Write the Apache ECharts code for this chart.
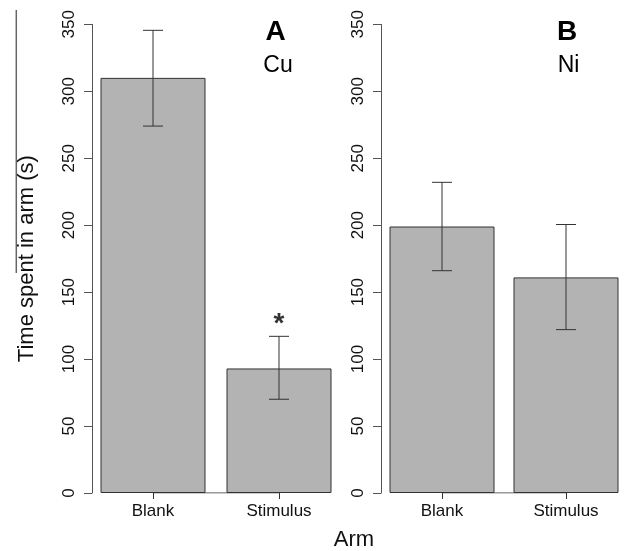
<!DOCTYPE html>
<html>
<head>
<meta charset="utf-8">
<script src="https://cdn.jsdelivr.net/npm/echarts@6/dist/echarts.min.js"></script>
<style>
html,body{margin:0;padding:0;background:#fff;}
#c{width:628px;height:551px;}
</style>
</head>
<body>
<div id="c"></div>
<script>
var categories = ['Blank', 'Stimulus'];
var cuMean = [310, 93];
var cuLow = [274, 70];
var cuHigh = [345.5, 117];
var niMean = [199, 161];
var niLow = [166, 122];
var niHigh = [232, 200.5];
var yTicksMin = 0, yTicksMax = 350, yTicksStep = 50;

var FONT = 'Liberation Sans, Arial, Helvetica, sans-serif';
var chart = echarts.init(document.getElementById('c'), null, {renderer: 'canvas'});

function errData(lo, hi) {
  return lo.map(function (v, i) { return [i, v, hi[i]]; });
}
function errRender(params, api) {
  var x = api.value(0);
  var lo = api.coord([x, api.value(1)]);
  var hi = api.coord([x, api.value(2)]);
  var hw = 10;
  var st = {stroke: '#333', lineWidth: 1};
  return {
    type: 'group',
    children: [
      {type: 'line', shape: {x1: lo[0], y1: lo[1], x2: hi[0], y2: hi[1]}, style: st},
      {type: 'line', shape: {x1: lo[0] - hw, y1: lo[1], x2: lo[0] + hw, y2: lo[1]}, style: st},
      {type: 'line', shape: {x1: hi[0] - hw, y1: hi[1], x2: hi[0] + hw, y2: hi[1]}, style: st}
    ]
  };
}

function yAxis(idx, offset, withName) {
  var a = {
    type: 'value', gridIndex: idx, min: yTicksMin, max: yTicksMax, interval: yTicksStep,
    offset: offset,
    splitLine: {show: false},
    axisLine: {show: true, lineStyle: {color: '#555', width: 1}},
    axisTick: {show: true, length: 8, lineStyle: {color: '#555'}},
    axisLabel: {rotate: 90, fontSize: 17, color: '#111', fontFamily: FONT, margin: 14}
  };
  if (withName) {
    a.name = 'Time spent in arm (s)';
    a.nameLocation = 'middle';
    a.nameGap = 54;
    a.nameTextStyle = {fontSize: 22, color: '#111', fontFamily: FONT};
  }
  return a;
}
function xAxis(idx) {
  return {
    type: 'category', gridIndex: idx, data: categories,
    axisLine: {show: false},
    axisTick: {show: true, alignWithLabel: true, length: 6, lineStyle: {color: '#333'}},
    axisLabel: {fontSize: 17, color: '#111', fontFamily: FONT, margin: 10}
  };
}
function barSeries(idx, data) {
  return {
    type: 'bar', xAxisIndex: idx, yAxisIndex: idx, data: data, barWidth: 105,
    itemStyle: {color: '#b3b3b3', borderColor: '#333', borderWidth: 1},
    silent: true
  };
}
function baseLine(idx) {
  return {
    type: 'line', xAxisIndex: idx, yAxisIndex: idx, data: categories.map(function () { return 0; }),
    symbol: 'none', lineStyle: {color: '#333', width: 1}, z: 5, silent: true
  };
}

var option = {
  backgroundColor: '#fff',
  animation: false,
  grid: [
    {left: 90, top: 24.3, width: 252, height: 468.7},
    {left: 380, top: 24.3, width: 252, height: 468.7}
  ],
  xAxis: [xAxis(0), xAxis(1)],
  yAxis: [yAxis(0, -2, true), yAxis(1, -1, false)],
  series: [
    barSeries(0, cuMean),
    barSeries(1, niMean),
    baseLine(0),
    baseLine(1),
    {type: 'custom', xAxisIndex: 0, yAxisIndex: 0, data: errData(cuLow, cuHigh), renderItem: errRender, z: 6, silent: true},
    {type: 'custom', xAxisIndex: 1, yAxisIndex: 1, data: errData(niLow, niHigh), renderItem: errRender, z: 6, silent: true},
    {
      type: 'scatter', xAxisIndex: 0, yAxisIndex: 0, symbolSize: 0.01,
      data: [[1, cuHigh[1]]],
      label: {show: true, position: 'top', distance: -2, formatter: '*', fontSize: 28, fontWeight: 'bold', color: '#000', fontFamily: FONT},
      silent: true
    }
  ],
  graphic: [
    {type: 'text', x: 275.5, y: 32, style: {text: 'A', font: 'bold 28px ' + FONT, fill: '#000', textAlign: 'center', textVerticalAlign: 'middle'}},
    {type: 'text', x: 278, y: 66, style: {text: 'Cu', font: '23px ' + FONT, fill: '#000', textAlign: 'center', textVerticalAlign: 'middle'}},
    {type: 'text', x: 567, y: 32, style: {text: 'B', font: 'bold 28px ' + FONT, fill: '#000', textAlign: 'center', textVerticalAlign: 'middle'}},
    {type: 'text', x: 568.5, y: 66, style: {text: 'Ni', font: '23px ' + FONT, fill: '#000', textAlign: 'center', textVerticalAlign: 'middle'}},
    {type: 'text', x: 354, y: 540, style: {text: 'Arm', font: '22px ' + FONT, fill: '#111', textAlign: 'center', textVerticalAlign: 'middle'}},
    {type: 'line', shape: {x1: 16.3, y1: 10, x2: 16.3, y2: 273}, style: {stroke: '#666', lineWidth: 1.5}}
  ]
};
chart.setOption(option);
</script>
</body>
</html>
